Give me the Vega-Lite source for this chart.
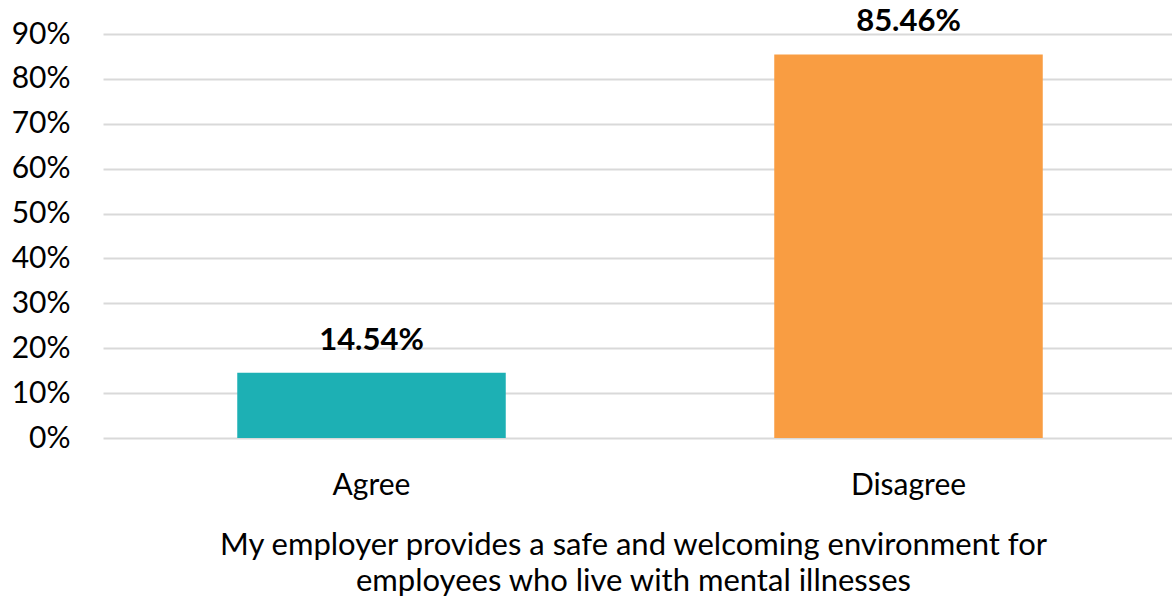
{
  "$schema": "https://vega.github.io/schema/vega-lite/v6.json",
  "autosize": {"type": "none"},
  "width": 1074,
  "height": 404,
  "padding": {"left": 103, "top": 34, "right": 0, "bottom": 164},
  "background": "white",
  "config": {"view": {"stroke": null}, "font": "Lato"},
  "data": {"values": [
    {"response": "Agree", "pct": 0.1454, "label": "14.54%"},
    {"response": "Disagree", "pct": 0.8546, "label": "85.46%"}
  ]},
  "encoding": {
    "x": {"field": "response", "type": "nominal", "sort": null,
      "scale": {"paddingInner": 0.5, "paddingOuter": 0.25},
      "axis": {"title": ["My employer provides a safe and welcoming environment for", "employees who live with mental illnesses"],
        "titleFontSize": 31, "titleFontWeight": "normal", "titleColor": "#000", "titlePadding": 30, "titleLineHeight": 36,
        "titleX": 530, "titleAnchor": "middle",
        "labelAngle": 0, "labelFontSize": 30, "labelColor": "#000", "labelPadding": 32,
        "domain": false, "ticks": false}},
    "y": {"field": "pct", "type": "quantitative",
      "scale": {"domain": [0, 0.9]},
      "axis": {"title": null, "format": ".0%", "values": [0,0.1,0.2,0.3,0.4,0.5,0.6,0.7,0.8,0.9],
        "labelFontSize": 30, "labelColor": "#000", "labelPadding": 33, "labelOverlap": false, "labelBound": false, "labelFlush": false,
        "domain": false, "ticks": false, "gridColor": "#d9d9d9", "gridWidth": 2}}
  },
  "layer": [
    {"mark": {"type": "bar", "clip": false},
     "encoding": {"color": {"field": "response", "type": "nominal", "legend": null,
       "scale": {"domain": ["Agree", "Disagree"], "range": ["#1db0b4", "#f99d42"]}}}},
    {"mark": {"type": "text", "baseline": "alphabetic", "dy": -23, "fontSize": 31, "fontWeight": "bold", "color": "#000"},
     "encoding": {"text": {"field": "label"}}}
  ]
}
